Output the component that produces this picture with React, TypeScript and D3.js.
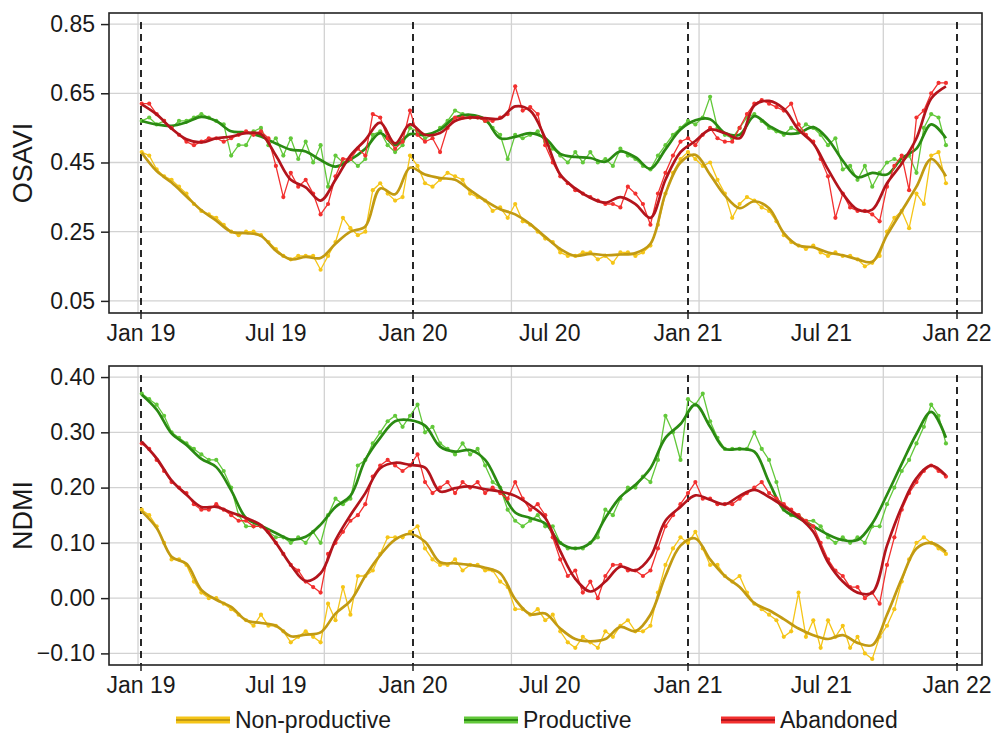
import { useEffect, useRef } from "react";
import * as d3 from "d3";

const width = 993;
const height = 735;

// acquisition grid: raw every 10 days, smoothed every 20 days
const rawStart = new Date(2019, 0, 2);
const rawDates = d3.range(109).map((i) => d3.timeDay.offset(rawStart, i * 10));
const smoothDates = d3.range(55).map((i) => d3.timeDay.offset(rawStart, i * 20));

const yearTicks = ["2019-01-01", "2020-01-01", "2021-01-01", "2022-01-01"];
const tickLabels = [
  { date: "2019-01-01", label: "Jan 19" },
  { date: "2019-07-01", label: "Jul 19" },
  { date: "2020-01-01", label: "Jan 20" },
  { date: "2020-07-01", label: "Jul 20" },
  { date: "2021-01-01", label: "Jan 21" },
  { date: "2021-07-01", label: "Jul 21" },
  { date: "2022-01-01", label: "Jan 22" },
];
const gridDates = ["2018-12-28", "2019-09-04", "2020-05-11", "2021-01-16", "2021-09-23"];

const categories = ["Non-productive", "Productive", "Abandoned"];

// OSAVI
const osaviNonProdRaw = [
  0.48, 0.47, 0.43, 0.41, 0.40, 0.38, 0.36, 0.33, 0.31, 0.30,
  0.29, 0.27, 0.25, 0.24, 0.25, 0.25, 0.24, 0.22, 0.20, 0.18,
  0.17, 0.18, 0.18, 0.18, 0.14, 0.18, 0.22, 0.29, 0.26, 0.24,
  0.25, 0.37, 0.39, 0.36, 0.34, 0.35, 0.47, 0.44, 0.39, 0.38,
  0.40, 0.42, 0.41, 0.40, 0.36, 0.35, 0.34, 0.31, 0.32, 0.29,
  0.33, 0.28, 0.27, 0.25, 0.23, 0.22, 0.19, 0.18, 0.18, 0.19,
  0.19, 0.17, 0.18, 0.16, 0.19, 0.19, 0.18, 0.19, 0.21, 0.27,
  0.36, 0.42, 0.46, 0.48, 0.46, 0.44, 0.45, 0.40, 0.36, 0.29,
  0.33, 0.35, 0.34, 0.32, 0.31, 0.28, 0.24, 0.22, 0.21, 0.20,
  0.21, 0.19, 0.18, 0.19, 0.18, 0.18, 0.17, 0.15, 0.16, 0.18,
  0.25, 0.29, 0.31, 0.26, 0.36, 0.33, 0.47, 0.48, 0.39,
];
const osaviProdRaw = [
  0.57, 0.58, 0.56, 0.57, 0.55, 0.57, 0.57, 0.58, 0.59, 0.58,
  0.57, 0.56, 0.47, 0.50, 0.50, 0.54, 0.55, 0.50, 0.52, 0.47,
  0.52, 0.46, 0.51, 0.45, 0.50, 0.38, 0.47, 0.45, 0.46, 0.44,
  0.46, 0.53, 0.54, 0.50, 0.48, 0.50, 0.55, 0.54, 0.52, 0.53,
  0.55, 0.57, 0.60, 0.59, 0.58, 0.58, 0.57, 0.55, 0.53, 0.46,
  0.53, 0.52, 0.53, 0.54, 0.51, 0.49, 0.47, 0.45, 0.48, 0.45,
  0.48, 0.45, 0.46, 0.44, 0.49, 0.47, 0.46, 0.44, 0.43, 0.47,
  0.50, 0.53, 0.55, 0.57, 0.56, 0.58, 0.64, 0.55, 0.53, 0.52,
  0.55, 0.58, 0.59, 0.57, 0.55, 0.54, 0.53, 0.55, 0.54, 0.56,
  0.55, 0.53, 0.50, 0.52, 0.43, 0.44, 0.40, 0.44, 0.38, 0.42,
  0.45, 0.46, 0.45, 0.47, 0.42, 0.55, 0.59, 0.58, 0.50,
];
const osaviAbandRaw = [
  0.62, 0.62, 0.59, 0.57, 0.55, 0.53, 0.51, 0.50, 0.51, 0.52,
  0.52, 0.51, 0.52, 0.53, 0.54, 0.53, 0.54, 0.52, 0.44, 0.35,
  0.42, 0.38, 0.40, 0.36, 0.30, 0.33, 0.41, 0.46, 0.46, 0.49,
  0.47, 0.59, 0.58, 0.52, 0.49, 0.51, 0.60, 0.53, 0.51, 0.52,
  0.48, 0.55, 0.58, 0.58, 0.58, 0.58, 0.57, 0.57, 0.58, 0.59,
  0.67, 0.60, 0.61, 0.59, 0.50, 0.45, 0.41, 0.39, 0.37, 0.36,
  0.35, 0.34, 0.33, 0.33, 0.32, 0.38, 0.36, 0.33, 0.27, 0.36,
  0.42, 0.47, 0.51, 0.52, 0.50, 0.53, 0.55, 0.52, 0.51, 0.51,
  0.55, 0.59, 0.62, 0.63, 0.62, 0.61, 0.60, 0.62, 0.56, 0.53,
  0.51, 0.46, 0.41, 0.29, 0.36, 0.32, 0.31, 0.31, 0.30, 0.28,
  0.38, 0.44, 0.47, 0.37, 0.58, 0.60, 0.65, 0.68, 0.68,
];
const osaviNonProdSmooth = [
  0.478, 0.425, 0.392, 0.352, 0.312, 0.282, 0.250, 0.246, 0.238, 0.195,
  0.170, 0.177, 0.174, 0.215, 0.250, 0.265, 0.375, 0.358, 0.435, 0.415,
  0.405, 0.400, 0.370, 0.340, 0.315, 0.300, 0.272, 0.235, 0.200, 0.180,
  0.186, 0.182, 0.184, 0.188, 0.215, 0.360, 0.450, 0.472, 0.415, 0.355,
  0.318, 0.338, 0.318, 0.246, 0.210, 0.205, 0.190, 0.182, 0.170, 0.163,
  0.240, 0.310, 0.380, 0.460, 0.410,
];
const osaviProdSmooth = [
  0.570, 0.560, 0.556, 0.566, 0.582, 0.570, 0.540, 0.537, 0.525, 0.505,
  0.487, 0.482, 0.457, 0.438, 0.458, 0.490, 0.535, 0.500, 0.532, 0.530,
  0.545, 0.580, 0.588, 0.575, 0.520, 0.524, 0.535, 0.520, 0.475, 0.466,
  0.463, 0.452, 0.482, 0.465, 0.432, 0.488, 0.545, 0.572, 0.575, 0.535,
  0.530, 0.584, 0.556, 0.535, 0.535, 0.552, 0.517, 0.455, 0.407, 0.420,
  0.415, 0.462, 0.490, 0.560, 0.520,
];
const osaviAbandSmooth = [
  0.618, 0.589, 0.548, 0.517, 0.508, 0.520, 0.525, 0.535, 0.532, 0.470,
  0.400, 0.378, 0.340, 0.400, 0.470, 0.515, 0.565, 0.505, 0.560, 0.530,
  0.535, 0.570, 0.580, 0.578, 0.577, 0.612, 0.600, 0.520, 0.415, 0.375,
  0.348, 0.334, 0.350, 0.330, 0.290, 0.400, 0.480, 0.512, 0.545, 0.535,
  0.520, 0.615, 0.628, 0.605, 0.545, 0.505, 0.430, 0.360, 0.314, 0.314,
  0.390, 0.447, 0.520, 0.635, 0.670,
];

// NDMI
const ndmiNonProdRaw = [
  0.16, 0.15, 0.13, 0.10, 0.07, 0.07, 0.06, 0.03, 0.01, 0.00,
  0.00, -0.01, -0.02, -0.03, -0.04, -0.05, -0.03, -0.05, -0.05, -0.06,
  -0.08, -0.07, -0.06, -0.07, -0.08, -0.01, -0.04, 0.02, -0.03, 0.04,
  0.04, 0.05, 0.08, 0.11, 0.11, 0.11, 0.12, 0.13, 0.09, 0.07,
  0.06, 0.06, 0.07, 0.05, 0.06, 0.06, 0.05, 0.05, 0.03, 0.02,
  -0.02, -0.02, -0.03, -0.02, -0.04, -0.03, -0.06, -0.08, -0.09, -0.07,
  -0.08, -0.09, -0.06, -0.07, -0.05, -0.04, -0.06, -0.06, -0.05, 0.01,
  0.06, 0.09, 0.11, 0.10, 0.12, 0.09, 0.06, 0.06, 0.04, 0.03,
  0.04, 0.01, -0.01, -0.02, -0.03, -0.04, -0.07, -0.06, 0.01, -0.07,
  -0.04, -0.09, -0.04, -0.07, -0.05, -0.09, -0.07, -0.10, -0.11, -0.07,
  -0.05, -0.02, 0.03, 0.07, 0.10, 0.11, 0.10, 0.09, 0.08,
];
const ndmiProdRaw = [
  0.37, 0.36, 0.35, 0.33, 0.30, 0.29, 0.28, 0.27, 0.26, 0.25,
  0.25, 0.23, 0.20, 0.15, 0.13, 0.13, 0.13, 0.12, 0.11, 0.11,
  0.10, 0.11, 0.10, 0.12, 0.10, 0.15, 0.18, 0.17, 0.18, 0.24,
  0.25, 0.28, 0.30, 0.32, 0.33, 0.31, 0.33, 0.35, 0.30, 0.31,
  0.28, 0.27, 0.26, 0.28, 0.26, 0.27, 0.24, 0.21, 0.20, 0.16,
  0.14, 0.13, 0.14, 0.15, 0.13, 0.13, 0.10, 0.09, 0.09, 0.09,
  0.10, 0.11, 0.16, 0.15, 0.18, 0.20, 0.20, 0.22, 0.21, 0.25,
  0.33, 0.30, 0.25, 0.36, 0.35, 0.37, 0.32, 0.29, 0.27, 0.27,
  0.27, 0.27, 0.30, 0.27, 0.25, 0.21, 0.16, 0.15, 0.15, 0.14,
  0.14, 0.13, 0.11, 0.10, 0.11, 0.10, 0.11, 0.10, 0.13, 0.13,
  0.17, 0.20, 0.23, 0.25, 0.28, 0.31, 0.35, 0.33, 0.28,
];
const ndmiAbandRaw = [
  0.28, 0.27, 0.25, 0.23, 0.21, 0.20, 0.19, 0.17, 0.16, 0.16,
  0.17, 0.16, 0.15, 0.14, 0.14, 0.13, 0.13, 0.12, 0.10, 0.08,
  0.06, 0.05, 0.03, 0.02, 0.01, 0.08, 0.10, 0.12, 0.14, 0.15,
  0.17, 0.22, 0.24, 0.25, 0.24, 0.23, 0.24, 0.26, 0.21, 0.19,
  0.20, 0.21, 0.19, 0.21, 0.20, 0.21, 0.19, 0.20, 0.19, 0.18,
  0.21, 0.18, 0.16, 0.17, 0.15, 0.11, 0.07, 0.04, 0.05, 0.01,
  0.03, 0.00, 0.04, 0.06, 0.06, 0.05, 0.05, 0.04, 0.05, 0.09,
  0.13, 0.15, 0.17, 0.19, 0.21, 0.18, 0.18, 0.17, 0.17, 0.17,
  0.18, 0.19, 0.20, 0.21, 0.19, 0.18, 0.17, 0.16, 0.15, 0.14,
  0.13, 0.10, 0.07, 0.05, 0.04, 0.02, 0.02, 0.00, 0.01, -0.01,
  0.06, 0.11, 0.16, 0.19, 0.21, 0.23, 0.24, 0.23, 0.22,
];
const ndmiNonProdSmooth = [
  0.157, 0.127, 0.075, 0.062, 0.015, -0.003, -0.016, -0.040, -0.045, -0.050,
  -0.069, -0.066, -0.062, -0.028, -0.005, 0.040, 0.078, 0.106, 0.116, 0.102,
  0.065, 0.063, 0.060, 0.055, 0.045, -0.002, -0.029, -0.028, -0.055, -0.074,
  -0.078, -0.074, -0.052, -0.060, -0.030, 0.040, 0.095, 0.108, 0.070, 0.040,
  0.020, -0.009, -0.022, -0.038, -0.055, -0.067, -0.074, -0.067, -0.081, -0.085,
  -0.030, 0.035, 0.090, 0.100, 0.084,
];
const ndmiProdSmooth = [
  0.368, 0.341, 0.298, 0.277, 0.252, 0.237, 0.195, 0.145, 0.131, 0.118,
  0.106, 0.111, 0.133, 0.165, 0.185, 0.250, 0.290, 0.320, 0.322, 0.312,
  0.274, 0.265, 0.268, 0.250, 0.200, 0.155, 0.145, 0.135, 0.100, 0.090,
  0.100, 0.145, 0.183, 0.205, 0.235, 0.290, 0.315, 0.350, 0.310, 0.270,
  0.270, 0.265, 0.210, 0.160, 0.145, 0.130, 0.115, 0.105, 0.105, 0.135,
  0.187, 0.243, 0.297, 0.337, 0.290,
];
const ndmiAbandSmooth = [
  0.283, 0.253, 0.213, 0.187, 0.165, 0.165, 0.155, 0.145, 0.132, 0.100,
  0.060, 0.031, 0.045, 0.105, 0.150, 0.190, 0.235, 0.245, 0.241, 0.236,
  0.193, 0.199, 0.202, 0.197, 0.193, 0.185, 0.168, 0.145, 0.085, 0.035,
  0.012, 0.030, 0.057, 0.050, 0.075, 0.140, 0.165, 0.186, 0.178, 0.170,
  0.185, 0.196, 0.183, 0.166, 0.147, 0.120, 0.065, 0.030, 0.010, 0.010,
  0.095, 0.165, 0.217, 0.240, 0.222,
];

const osaviTicks = [0.05, 0.25, 0.45, 0.65, 0.85];
const ndmiTicks = [-0.1, 0.0, 0.1, 0.2, 0.3, 0.4];

const rawColors = ["#f5c518", "#62c83a", "#f2302f"];
const smoothColors = ["#c29a12", "#2a8a12", "#b3141c"];

const font = "'Liberation Sans', Arial, Helvetica, sans-serif";

const panels = [
  {
    title: "OSAVI",
    top: 13,
    bottom: 313,
    domain: [0.015, 0.882],
    ticks: osaviTicks,
    raw: [osaviNonProdRaw, osaviProdRaw, osaviAbandRaw],
    smooth: [osaviNonProdSmooth, osaviProdSmooth, osaviAbandSmooth],
  },
  {
    title: "NDMI",
    top: 366,
    bottom: 665,
    domain: [-0.121, 0.42],
    ticks: ndmiTicks,
    raw: [ndmiNonProdRaw, ndmiProdRaw, ndmiAbandRaw],
    smooth: [ndmiNonProdSmooth, ndmiProdSmooth, ndmiAbandSmooth],
  },
];

const left = 109;
const right = 982;
const fmt = d3.format(".2f");

const App = () => {
  const svgRef = useRef<SVGSVGElement>(null);

  useEffect(() => {
    const svg = d3.select(svgRef.current);
    svg.selectAll("*").remove();

    const parse = d3.timeParse("%Y-%m-%d");
    const xScale = d3
      .scaleTime()
      .domain(yearTicks.map((d) => parse(d)!))
      .range([141, 413, 688, 957]);
    const xOf = (d: string) => xScale(parse(d)!);

    panels.forEach((p) => {
      const yScale = d3.scaleLinear().domain(p.domain).range([p.bottom, p.top]);
      const g = svg.append("g");

      // grid
      g.selectAll(".hgrid")
        .data(p.ticks)
        .join("line")
        .attr("x1", left)
        .attr("x2", right)
        .attr("y1", (d) => yScale(d))
        .attr("y2", (d) => yScale(d))
        .attr("stroke", "#d2d2d2")
        .attr("stroke-width", 1.3);
      g.selectAll(".vgrid")
        .data(gridDates)
        .join("line")
        .attr("x1", xOf)
        .attr("x2", xOf)
        .attr("y1", p.top)
        .attr("y2", p.bottom)
        .attr("stroke", "#d2d2d2")
        .attr("stroke-width", 1.3);

      // year separators
      g.selectAll(".year")
        .data(yearTicks)
        .join("line")
        .attr("x1", xOf)
        .attr("x2", xOf)
        .attr("y1", p.top + 9)
        .attr("y2", p.bottom)
        .attr("stroke", "#111")
        .attr("stroke-width", 1.8)
        .attr("stroke-dasharray", "7,5");

      const rawLine = d3
        .line<number>()
        .x((_, i) => xScale(rawDates[i]))
        .y((d) => yScale(d));
      const smoothLine = d3
        .line<number>()
        .x((_, i) => xScale(smoothDates[i]))
        .y((d) => yScale(d))
        .curve(d3.curveCatmullRom.alpha(0.5));

      categories.forEach((_, k) => {
        g.append("path")
          .datum(p.raw[k])
          .attr("fill", "none")
          .attr("stroke", rawColors[k])
          .attr("stroke-width", 1.3)
          .attr("d", rawLine);
        g.append("g")
          .selectAll("circle")
          .data(p.raw[k])
          .join("circle")
          .attr("cx", (_, i) => xScale(rawDates[i]))
          .attr("cy", (d) => yScale(d))
          .attr("r", 2.1)
          .attr("fill", rawColors[k]);
        g.append("path")
          .datum(p.smooth[k])
          .attr("fill", "none")
          .attr("stroke", smoothColors[k])
          .attr("stroke-width", 2.7)
          .attr("d", smoothLine);
      });

      // frame
      g.append("rect")
        .attr("x", left)
        .attr("y", p.top)
        .attr("width", right - left)
        .attr("height", p.bottom - p.top)
        .attr("fill", "none")
        .attr("stroke", "#222")
        .attr("stroke-width", 1.6);

      // y axis
      const yAxis = d3
        .axisLeft(yScale)
        .tickValues(p.ticks)
        .tickFormat((d) => fmt(d as number))
        .tickSize(8)
        .tickPadding(6);
      const ya = g.append("g").attr("transform", `translate(${left},0)`).call(yAxis);
      ya.select(".domain").remove();
      ya.selectAll("line").attr("stroke", "#222").attr("stroke-width", 1.5);
      ya.selectAll("text")
        .attr("font-family", font)
        .attr("font-size", 23)
        .attr("fill", "#1a1a1a");

      // x ticks at year boundaries
      g.selectAll(".xtick")
        .data(yearTicks)
        .join("line")
        .attr("x1", xOf)
        .attr("x2", xOf)
        .attr("y1", p.bottom)
        .attr("y2", p.bottom + 6)
        .attr("stroke", "#222")
        .attr("stroke-width", 1.5);
      g.selectAll(".xlabel")
        .data(tickLabels)
        .join("text")
        .attr("x", (d) => xOf(d.date))
        .attr("y", p.bottom + 28)
        .attr("text-anchor", "middle")
        .attr("font-family", font)
        .attr("font-size", 23)
        .attr("fill", "#1a1a1a")
        .text((d) => d.label);

      // y title
      g.append("text")
        .attr("transform", `translate(32,${(p.top + p.bottom) / 2}) rotate(-90)`)
        .attr("text-anchor", "middle")
        .attr("font-family", font)
        .attr("font-size", 27)
        .attr("fill", "#1a1a1a")
        .text(p.title);
    });

    // legend
    const legendX = [176, 464, 721];
    const legend = svg.append("g");
    categories.forEach((c, k) => {
      const lg = legend.append("g").attr("transform", `translate(${legendX[k]},720)`);
      lg.append("line")
        .attr("x1", 0)
        .attr("x2", 54)
        .attr("stroke", rawColors[k])
        .attr("stroke-width", 7);
      lg.append("line")
        .attr("x1", 0)
        .attr("x2", 54)
        .attr("stroke", smoothColors[k])
        .attr("stroke-width", 2.2);
      lg.append("text")
        .attr("x", 59)
        .attr("y", 8)
        .attr("font-family", font)
        .attr("font-size", 23)
        .attr("fill", "#1a1a1a")
        .text(c);
    });
  }, []);

  return (
    <>
      <style>{`body{margin:0;background:#fff}`}</style>
      <svg
        ref={svgRef}
        width={width}
        height={height}
        viewBox={`0 0 ${width} ${height}`}
        style={{ display: "block", background: "#fff" }}
      ></svg>
    </>
  );
};

export default App;
